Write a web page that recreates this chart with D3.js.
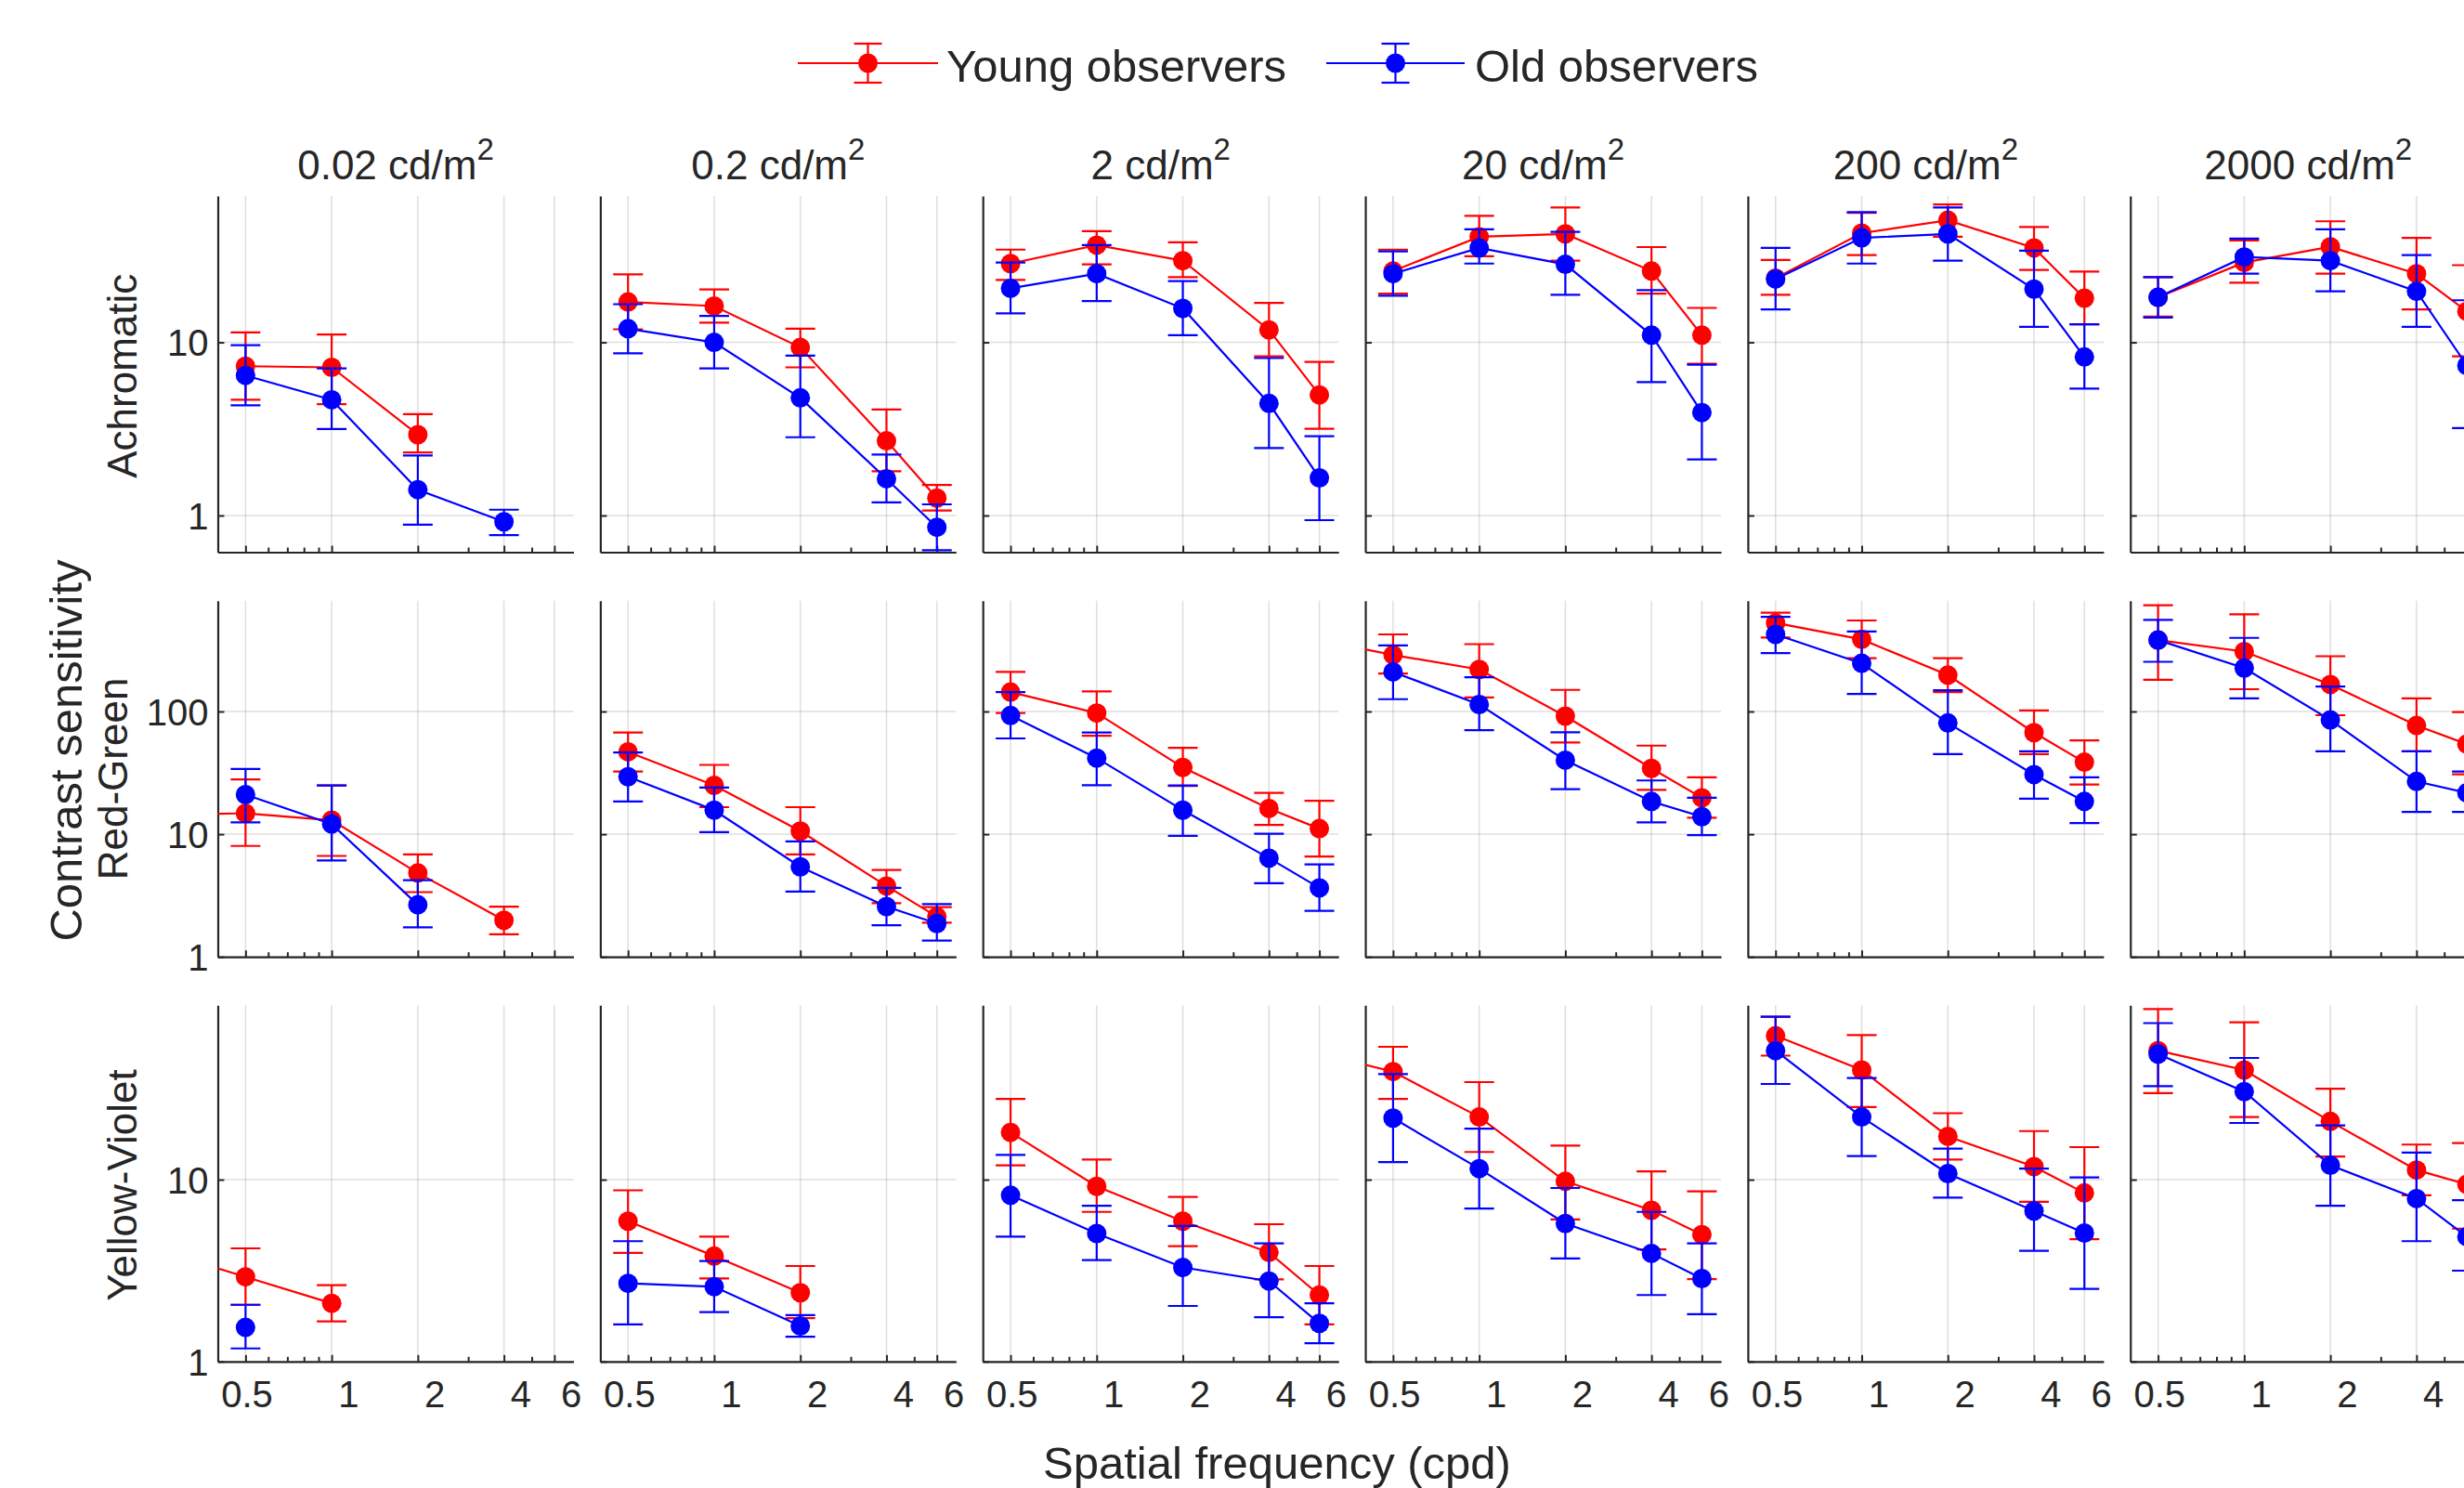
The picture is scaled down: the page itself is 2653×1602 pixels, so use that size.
<!DOCTYPE html>
<html>
<head>
<meta charset="utf-8">
<script src="https://cdn.jsdelivr.net/npm/d3@7"></script>
<style>
  body { margin: 0; background: #fff; }
  text { font-family: "Liberation Sans", Arial, Helvetica, sans-serif; fill: #262626; }
</style>
</head>
<body>
<svg id="chart" width="2653" height="1602"></svg>
<script>
// ---------------- DATA ----------------
const freqs = [0.25, 0.5, 1, 2, 4, 6];            // cpd (0.25 lies left of the axis and is clipped)
const luminances = ["0.02", "0.2", "2", "20", "200", "2000"];
const channels = ["Achromatic", "Red-Green", "Yellow-Violet"];
const groups = ["Young observers", "Old observers"];
const xTickValues = [0.5, 1, 2, 4, 6];
const xTickLabels = ["0.5", "1", "2", "4", "6"];
const xMinorTicks = [0.6, 0.7, 0.8, 0.9, 3, 5];
const yTickValues = [[1, 10], [1, 10, 100], [1, 10]];
const yTickLabels = [["1", "10"], ["1", "10", "100"], ["1", "10"]];
const yDomains = [[0.614, 70], [1, 800], [1, 91]];
const xDomain = [0.4, 7];

const N = null;
// Achromatic
const achYoung   = [[N,7.28,7.17,2.93,N,N],[N,17.1,16.2,9.34,2.70,1.26],[N,28.5,36.4,29.6,11.8,4.97],[N,25.8,40.7,42.3,25.8,11.0],[N,23.5,42.7,50.7,35.1,18.0],[N,18.2,28.9,35.6,24.9,15.1]];
const achYoungLo = [[N,4.66,4.40,2.31,N,N],[N,11.9,13.0,7.17,1.80,1.07],[N,22.9,28.2,23.8,8.30,3.17],[N,19.1,31.4,29.6,19.1,7.53],[N,18.8,31.9,40.7,26.2,12.7],[N,14.1,22.1,24.9,15.5,8.30]];
const achYoungHi = [[N,11.4,11.1,3.85,N,N],[N,24.7,20.2,12.0,4.09,1.50],[N,34.3,43.8,37.8,16.9,7.71],[N,34.3,53.7,60.1,35.5,15.8],[N,29.9,55.9,62.6,46.4,25.6],[N,23.8,38.7,50.0,40.1,27.9]];
const achOld     = [[N,6.44,4.66,1.41,0.92,N],[N,12.0,10.0,4.78,1.63,0.855],[N,20.5,24.9,15.7,4.44,1.65],[N,24.9,35.1,28.2,11.0,3.93],[N,23.2,40.1,42.3,20.3,8.23],[N,18.2,31.1,29.6,19.7,7.35]];
const achOldLo   = [[N,4.33,3.16,0.885,0.77,N],[N,8.64,7.07,2.83,1.19,0.63],[N,14.7,17.3,11.0,2.45,0.94],[N,18.6,28.5,18.8,5.90,2.11],[N,15.5,28.5,29.6,12.3,5.40],[N,13.9,24.9,19.7,12.3,3.20]];
const achOldHi   = [[N,9.62,7.07,2.22,1.08,N],[N,16.6,14.2,8.39,2.25,1.16],[N,28.9,36.4,22.6,8.11,2.87],[N,33.5,44.9,43.4,20.0,7.42],[N,35.1,56.5,60.1,33.8,12.7],[N,23.8,39.7,44.9,31.9,17.5]];
// Red-Green
const rgYoung    = [[14.4,14.8,13.0,4.83,1.99,N],[N,46.9,25.0,10.6,3.78,2.13],[N,144,97.1,35.0,16.2,11.1],[400,289,220,91.6,34.4,19.8],[N,527,387,198,67.3,38.6],[N,382,308,166,76.9,54.2]];
const rgYoungLo  = [[N,8.02,6.65,3.37,1.53,N],[N,32.4,16.6,6.85,2.74,1.90],[N,97.1,63.5,24.7,11.9,6.58],[N,204,130,55.9,23.0,13.6],[N,401,272,144,45.0,25.4],[N,181,152,93.3,47.4,30.8]];
const rgYoungHi  = [[N,28.0,25.0,6.85,2.57,N],[N,67.3,36.7,16.6,5.11,2.54],[N,210,146,50.6,21.7,18.7],[N,425,354,150,52.7,29.1],[N,638,552,272,102,58.2],[N,734,620,282,128,98.8]];
const rgOld      = [[N,21.0,12.1,2.66,N,N],[N,29.4,15.7,5.42,2.57,1.87],[N,92.7,41.7,15.7,6.38,3.65],[N,210,114,40.1,18.5,13.9],[N,425,247,80.6,30.6,18.5],[N,382,226,85.4,26.9,21.7]];
const rgOldLo    = [[N,12.5,6.10,1.74,N,N],[N,18.5,10.4,3.41,1.81,1.36],[N,60.3,25.1,9.71,3.98,2.37],[N,126,70.5,23.3,12.5,9.82],[N,299,139,45.0,19.5,12.3],[N,254,128,47.4,15.2,15.2]];
const rgOldHi    = [[N,34.0,25.0,4.22,N,N],[N,46.3,24.0,8.74,3.65,2.69],[N,144,67.3,25.0,10.1,5.68],[N,346,190,67.6,27.4,19.8],[N,591,448,149,47.4,29.1],[N,558,398,160,47.4,32.4]];
// Yellow-Violet
const yvYoung    = [[4.07,2.92,2.09,N,N,N],[N,5.91,3.80,2.39,N,N],[N,18.2,9.19,5.91,3.98,2.32],[51.5,39.3,22.1,9.79,6.79,4.99],[N,61.9,40.1,17.3,11.8,8.45],[N,51.2,40.1,20.9,11.3,9.42]];
const yvYoungLo  = [[N,2.05,1.66,N,N,N],[N,3.96,2.86,1.73,N,N],[N,12.0,6.65,4.31,2.83,1.60],[N,27.8,14.2,6.04,4.13,2.84],[N,48.1,25.1,12.9,7.55,4.71],[N,29.9,22.1,13.4,8.21,5.38]];
const yvYoungHi  = [[N,4.19,2.63,N,N,N],[N,8.74,4.86,3.35,N,N],[N,27.8,12.9,8.03,5.69,3.35],[N,53.8,34.4,15.4,11.1,8.63],[N,78.7,62.4,23.2,18.5,15.1],[N,86.7,73.3,31.6,15.6,15.9]];
const yvOld      = [[N,1.54,N,N,N,N],[N,2.69,2.58,1.57,N,N],[N,8.21,5.06,3.29,2.77,1.62],[N,21.8,11.5,5.74,3.93,2.86],[N,51.2,22.1,10.8,6.73,5.09],[N,49.1,30.5,12.0,7.87,4.86]];
const yvOldLo    = [[N,1.18,N,N,N,N],[N,1.60,1.87,1.37,N,N],[N,4.86,3.61,2.02,1.75,1.26],[N,12.5,6.93,3.69,2.32,1.82],[N,33.6,13.5,7.96,4.06,2.51],[N,32.7,20.5,7.18,4.59,3.16]];
const yvOldHi    = [[N,2.05,N,N,N,N],[N,4.59,3.57,1.80,N,N],[N,13.7,7.18,5.57,4.46,2.09],[N,38.1,19.1,9.00,6.65,4.46],[N,78.7,36.2,14.8,11.5,10.3],[N,72.6,46.7,19.9,14.1,7.71]];

// ---------------- LAYOUT / STYLE ----------------
const W = 2653;
const colors = ["#ff0000", "#0000ff"];
const panelLeft0 = 234.5, panelPitch = 411.85, panelW = 383;
const rowTops = [211, 646.7, 1082.3], panelH = 383.5;
const axisColor = "#262626";
const tickFont = 40, titleFont = 44, labelFont = 44, bigFont = 49;
const markerR = 10.5, capHalf = 16, lineW = 2.2, xLabelShift = 29;

const table = [
  [[achYoung, achYoungLo, achYoungHi], [achOld, achOldLo, achOldHi]],
  [[rgYoung, rgYoungLo, rgYoungHi], [rgOld, rgOldLo, rgOldHi]],
  [[yvYoung, yvYoungLo, yvYoungHi], [yvOld, yvOldLo, yvOldHi]]
];

const svg = d3.select("#chart");
const defs = svg.append("defs");

channels.forEach((ch, r) => {
  luminances.forEach((lum, c) => {
    const left = panelLeft0 + c * panelPitch, top = rowTops[r];
    const g = svg.append("g").attr("transform", `translate(${left},${top})`);
    const x = d3.scaleLog().domain(xDomain).range([0, panelW]);
    const y = d3.scaleLog().domain(yDomains[r]).range([panelH, 0]);

    const clipId = `clip-${r}-${c}`;
    defs.append("clipPath").attr("id", clipId)
      .append("rect").attr("x", 0).attr("y", -20).attr("width", panelW).attr("height", panelH + 40);

    // grid
    g.append("g").selectAll("line").data(xTickValues).join("line")
      .attr("x1", d => x(d)).attr("x2", d => x(d)).attr("y1", 0).attr("y2", panelH)
      .attr("stroke", axisColor).attr("stroke-opacity", 0.15).attr("stroke-width", 1.5);
    g.append("g").selectAll("line").data(yTickValues[r]).join("line")
      .attr("x1", 0).attr("x2", panelW).attr("y1", d => y(d)).attr("y2", d => y(d))
      .attr("stroke", axisColor).attr("stroke-opacity", 0.15).attr("stroke-width", 1.5);

    // x axis (major + minor)
    const gxMinor = g.append("g").attr("transform", `translate(0,${panelH})`)
      .call(d3.axisBottom(x).tickValues(xMinorTicks).tickSizeInner(-5).tickSizeOuter(0).tickFormat(""));
    gxMinor.select(".domain").remove();
    gxMinor.selectAll("line").attr("stroke", axisColor).attr("stroke-width", 2);

    // labels that would fall past the figure's right edge are not shown (as in the original)
    const gx = g.append("g").attr("transform", `translate(0,${panelH})`)
      .call(d3.axisBottom(x).tickValues(xTickValues).tickSizeInner(-7).tickSizeOuter(0)
        .tickFormat((d, i) => (r === 2 && left + x(d) + xLabelShift - 10 < W) ? xTickLabels[i] : ""));
    gx.select(".domain").attr("stroke", axisColor).attr("stroke-width", 2.2);
    gx.selectAll("line").attr("stroke", axisColor).attr("stroke-width", 2);
    gx.selectAll("text").attr("x", xLabelShift).attr("y", 49).attr("dy", null)
      .attr("text-anchor", "end").style("font-size", tickFont + "px")
      .style("font-family", '"Liberation Sans", Arial, sans-serif').attr("fill", axisColor);

    // y axis
    const gy = g.append("g")
      .call(d3.axisLeft(y).tickValues(yTickValues[r]).tickSizeInner(-7).tickSizeOuter(0).tickPadding(10)
        .tickFormat((d, i) => c === 0 ? yTickLabels[r][i] : ""));
    gy.select(".domain").attr("stroke", axisColor).attr("stroke-width", 2.2);
    gy.selectAll("line").attr("stroke", axisColor).attr("stroke-width", 2);
    gy.selectAll("text").attr("dy", "0.36em").style("font-size", tickFont + "px")
      .style("font-family", '"Liberation Sans", Arial, sans-serif').attr("fill", axisColor);

    // title (first row only)
    if (r === 0) {
      const t = svg.append("text").attr("x", left + panelW / 2).attr("y", 193)
        .attr("text-anchor", "middle").style("font-size", titleFont + "px");
      t.append("tspan").text(lum + " cd/m");
      t.append("tspan").attr("dy", -21).style("font-size", "33px").text("2");
    }

    // data series
    table[r].forEach((arrs, gi) => {
      const [m, lo, hi] = arrs;
      const pts = freqs.map((f, i) => ({ f, v: m[c][i], lo: lo[c][i], hi: hi[c][i] }));
      const col = colors[gi];
      const line = d3.line().defined(d => d.v != null).x(d => x(d.f)).y(d => y(d.v));
      g.append("path").datum(pts).attr("d", line)
        .attr("fill", "none").attr("stroke", col).attr("stroke-width", lineW)
        .attr("clip-path", `url(#${clipId})`);
      const vis = pts.filter(d => d.v != null && d.f >= xDomain[0] && d.f <= xDomain[1]);
      const eb = g.append("g").attr("stroke", col).attr("stroke-width", lineW);
      vis.filter(d => d.lo != null && d.hi != null).forEach(d => {
        const cx = x(d.f);
        eb.append("line").attr("x1", cx).attr("x2", cx).attr("y1", y(d.lo)).attr("y2", y(d.hi));
        eb.append("line").attr("x1", cx - capHalf).attr("x2", cx + capHalf).attr("y1", y(d.lo)).attr("y2", y(d.lo));
        eb.append("line").attr("x1", cx - capHalf).attr("x2", cx + capHalf).attr("y1", y(d.hi)).attr("y2", y(d.hi));
      });
      g.append("g").selectAll("circle").data(vis).join("circle")
        .attr("cx", d => x(d.f)).attr("cy", d => y(d.v)).attr("r", markerR).attr("fill", col);
    });
  });
});

// row labels
const rowLabelX = [147, 137, 147];
channels.forEach((ch, r) => {
  const cy = rowTops[r] + panelH / 2 + (r === 1 ? 0 : 2);
  svg.append("text").attr("transform", `translate(${rowLabelX[r]},${cy}) rotate(-90)`)
    .attr("text-anchor", "middle").style("font-size", labelFont + "px").text(ch);
});
svg.append("text").attr("transform", `translate(88,808) rotate(-90)`)
  .attr("text-anchor", "middle").style("font-size", bigFont + "px").text("Contrast sensitivity");
svg.append("text").attr("x", 1375).attr("y", 1592)
  .attr("text-anchor", "middle").style("font-size", bigFont + "px").text("Spatial frequency (cpd)");

// legend
const legendItems = [
  { x1: 859, x2: 1010, tx: 1019 },
  { x1: 1428, x2: 1577, tx: 1588 }
];
const legY = 68;
groups.forEach((name, i) => {
  const it = legendItems[i], col = colors[i];
  const lg = svg.append("g");
  const mx = (it.x1 + it.x2) / 2;
  lg.append("line").attr("x1", it.x1).attr("x2", it.x2).attr("y1", legY).attr("y2", legY)
    .attr("stroke", col).attr("stroke-width", lineW);
  lg.append("line").attr("x1", mx).attr("x2", mx).attr("y1", legY - 21).attr("y2", legY + 21)
    .attr("stroke", col).attr("stroke-width", lineW);
  [legY - 21, legY + 21].forEach(yy => lg.append("line").attr("x1", mx - 15).attr("x2", mx + 15)
    .attr("y1", yy).attr("y2", yy).attr("stroke", col).attr("stroke-width", lineW));
  lg.append("circle").attr("cx", mx).attr("cy", legY).attr("r", markerR).attr("fill", col);
  lg.append("text").attr("x", it.tx).attr("y", 87.5).style("font-size", bigFont + "px").text(name);
});
</script>
</body>
</html>
